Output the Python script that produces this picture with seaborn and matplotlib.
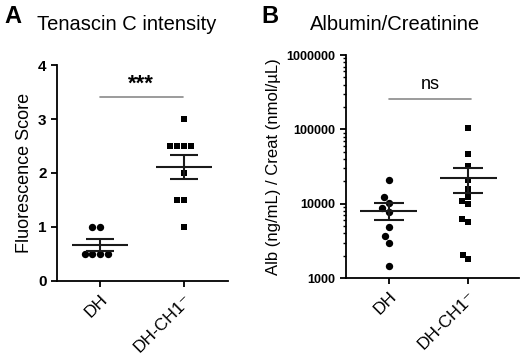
import matplotlib
matplotlib.use("Agg")
import matplotlib.pyplot as plt
import matplotlib.ticker as mticker
import seaborn as sns
import pandas as pd
import numpy as np

# --- Data ---
groups = ["DH", "DH-CH1\u207b"]

# Panel A: Tenascin C fluorescence score
tnc_dh = [1, 1, 0.5, 0.5, 0.5, 0.5]
tnc_ch1 = [3, 2.5, 2.5, 2.5, 2.5, 2, 1.5, 1.5, 1]

# Panel B: albumin / creatinine ratio
alb_dh = [20600, 12400, 10300, 8800, 7800, 4850, 3650, 3000, 1470]
alb_ch1 = [103000, 46000, 31800, 20600, 15900, 12400, 11000, 10000,
           6150, 5600, 2020, 1780]

sig_a = "***"
sig_b = "ns"
sig_a_y = 3.4
sig_b_y = 257000

sns.set_style("ticks")
plt.rcParams["font.family"] = ["Liberation Sans", "DejaVu Sans"]
plt.rcParams["text.color"] = "black"
plt.rcParams["axes.labelcolor"] = "black"
plt.rcParams["xtick.color"] = "black"
plt.rcParams["ytick.color"] = "black"
plt.rcParams["axes.edgecolor"] = "black"


def long_form(a, b):
    return pd.DataFrame({
        "group": [groups[0]] * len(a) + [groups[1]] * len(b),
        "value": list(a) + list(b),
    })


def draw_panel(ax, a, b, half_width, capsize):
    df = long_form(a, b)
    sns.swarmplot(data=df[df.group == groups[0]], x="group", y="value",
                  order=groups, marker="o", color="black", size=5.3,
                  linewidth=0, ax=ax)
    sns.swarmplot(data=df[df.group == groups[1]], x="group", y="value",
                  order=groups, marker="s", color="black", size=5.8,
                  linewidth=0, ax=ax)
    # squares a bit smaller than their swarm spacing, so they don't touch
    sq = ax.collections[-1]
    sq.set_sizes([(5.8 * 0.82) ** 2])
    # mean +/- SEM
    for i, g in enumerate(groups):
        v = df.loc[df.group == g, "value"].to_numpy(dtype=float)
        m = v.mean()
        sem = v.std(ddof=1) / np.sqrt(len(v))
        ax.hlines(m, i - half_width, i + half_width, color="#1a1a1a", lw=1.5,
                  zorder=4)
        ax.errorbar(i, m, yerr=sem, color="#1a1a1a", capsize=capsize,
                    elinewidth=1.5, capthick=1.5, zorder=4)
    ax.set_xlabel("")
    for s in ["top", "right"]:
        ax.spines[s].set_visible(False)
    for s in ["left", "bottom"]:
        ax.spines[s].set_linewidth(1.3)
    ax.tick_params(axis="both", width=1.3, length=4, color="black")
    ax.set_xticks(range(len(groups)))
    ax.set_xticklabels(groups, rotation=45, ha="right",
                       rotation_mode="anchor", fontsize=12.5)


fig = plt.figure(figsize=(5.2, 3.56), dpi=100)

# ---- Panel A ----
axA = fig.add_axes([0.1096, 0.2107, 0.329, 0.6067])
draw_panel(axA, tnc_dh, tnc_ch1, 0.33, 10)
axA.set_xlim(-0.51, 1.52)
axA.set_ylim(0, 4)
axA.set_yticks([0, 1, 2, 3, 4])
axA.set_ylabel("Fluorescence Score", fontsize=13)
for lab in axA.get_yticklabels():
    lab.set_fontweight("bold")
    lab.set_fontsize(11)
axA.plot([0, 0.98], [sig_a_y, sig_a_y], color="#8a8a8a", lw=1.2)
axA.text(0.49, sig_a_y + 0.05, sig_a, ha="center", va="bottom",
         fontsize=16, fontweight="bold")

# ---- Panel B ----
axB = fig.add_axes([0.665, 0.219, 0.333, 0.6265])
axB.set_yscale("log")
draw_panel(axB, alb_dh, alb_ch1, 0.36, 10.5)
axB.set_xlim(-0.54, 1.64)
axB.set_ylim(1000, 1e6)
axB.set_yticks([1000, 10000, 100000, 1000000])
axB.yaxis.set_major_formatter(mticker.FuncFormatter(lambda v, p: f"{int(round(v))}"))
axB.yaxis.set_minor_locator(mticker.LogLocator(base=10, subs=np.arange(2, 10)))
axB.yaxis.set_minor_formatter(mticker.NullFormatter())
axB.tick_params(axis="y", which="minor", length=2, width=1)
axB.set_ylabel("Alb (ng/mL) / Creat (nmol/\u00b5L)", fontsize=12)
for lab in axB.get_yticklabels():
    lab.set_fontweight("bold")
    lab.set_fontsize(9)
axB.plot([0, 1.04], [sig_b_y, sig_b_y], color="#8a8a8a", lw=1.2)
axB.text(0.52, sig_b_y * 1.2, sig_b, ha="center", va="bottom", fontsize=13)

# titles and panel letters
fig.text(0.071, 0.932, "Tenascin C intensity", fontsize=14.5, va="center")
fig.text(0.008, 0.955, "A", fontsize=17, fontweight="bold", va="center")
fig.text(0.596, 0.932, "Albumin/Creatinine", fontsize=14.5, va="center")
fig.text(0.502, 0.955, "B", fontsize=17, fontweight="bold", va="center")

fig.savefig("out.png", dpi=100)
